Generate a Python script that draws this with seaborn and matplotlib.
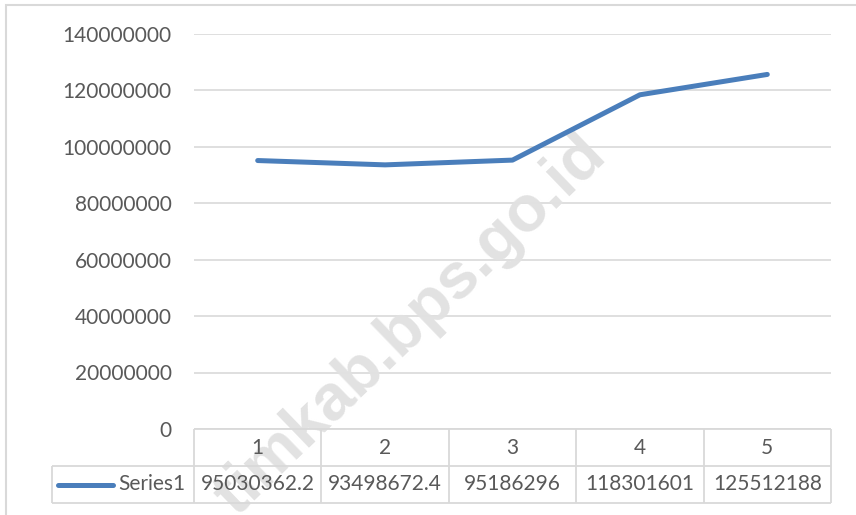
import matplotlib
matplotlib.use('Agg')
import matplotlib.pyplot as plt
import matplotlib.transforms as mtransforms
from matplotlib.patches import Rectangle
import seaborn as sns
import pandas as pd

# ---- data ----
categories = [1, 2, 3, 4, 5]
series1 = [95030362.2, 93498672.4, 95186296, 118301601, 125512188]
value_labels = ["95030362.2", "93498672.4", "95186296", "118301601", "125512188"]
series_name = "Series1"
yticks = [0, 20000000, 40000000, 60000000, 80000000, 100000000, 120000000, 140000000]
watermark = "timkab.bps.go.id"

LINE = '#4A7EBB'
GRID = '#D9D9D9'
TXT = '#595959'

sns.set_theme(style='white')
plt.rcParams['font.family'] = ['Lato', 'DejaVu Sans']

W, H = 856, 515
fig = plt.figure(figsize=(W / 100, H / 100), dpi=100)


def fx(px):
    return px / W


def fy(py):
    return 1 - py / H


ax_l, ax_r, ax_t, ax_b = 194, 831, 33.5, 429
ax = fig.add_axes([fx(ax_l), fy(ax_b), fx(ax_r) - fx(ax_l), fy(ax_t) - fy(ax_b)])

df = pd.DataFrame({'cat': categories, 'value': series1})
sns.lineplot(data=df, x='cat', y='value', ax=ax, color=LINE, linewidth=3.6,
             solid_capstyle='round', solid_joinstyle='round', zorder=4)

ax.set_xlim(0.5, 5.5)
ax.set_ylim(0, 140000000)
ax.set_yticks(yticks)
ax.set_yticklabels([str(v) for v in yticks])
ax.set_xticks([])
ax.set_xlabel('')
ax.set_ylabel('')
ax.yaxis.grid(True, color=GRID, linewidth=1.2)
ax.set_axisbelow(True)
for s in ax.spines.values():
    s.set_visible(False)
ax.tick_params(axis='y', length=0, pad=16, labelcolor=TXT, labelsize=15)

# ---- watermark (behind table and line) ----
ax.text(fx(411), fy(326), watermark, transform=fig.transFigure, rotation=44,
        rotation_mode='anchor', ha='center', va='center', fontsize=47,
        fontweight='bold', color='#E2E2E2',
        family=['Liberation Sans', 'DejaVu Sans'], zorder=1.5, clip_on=False)

# ---- data table ----
ax_h = ax_b - ax_t
ax_w = ax_r - ax_l
rh = 37 / ax_h  # row height in axes units
blend = mtransforms.blended_transform_factory(ax.transData, ax.transAxes)
tA = ax.transAxes
tkw = dict(color=GRID, linewidth=1.3, clip_on=False, solid_capstyle='butt', zorder=3)
lbl_left = (52 - ax_l) / ax_w

ax.plot([0, 1], [0, 0], transform=tA, **tkw)
ax.plot([lbl_left, 1], [-rh, -rh], transform=tA, **tkw)
ax.plot([lbl_left, 1], [-2 * rh, -2 * rh], transform=tA, **tkw)
bounds = [c - 0.5 for c in categories] + [categories[-1] + 0.5]
for b in bounds:
    ax.plot([b, b], [0, -2 * rh], transform=blend, **tkw)
ax.plot([lbl_left, lbl_left], [-rh, -2 * rh], transform=tA, **tkw)

for c, v in zip(categories, value_labels):
    ax.text(c, -rh / 2, str(c), transform=blend, ha='center', va='center',
            fontsize=15, color=TXT, clip_on=False, zorder=4)
    ax.text(c, -1.5 * rh, v, transform=blend, ha='center', va='center',
            fontsize=15, color=TXT, clip_on=False, zorder=4)

ax.text((185 - ax_l) / ax_w, -1.5 * rh, series_name, transform=tA, ha='right',
        va='center', fontsize=15, color=TXT, clip_on=False, zorder=4)
ax.plot([(58 - ax_l) / ax_w, (113 - ax_l) / ax_w], [-1.5 * rh, -1.5 * rh],
        transform=tA, color=LINE, linewidth=3.6, solid_capstyle='round',
        clip_on=False, zorder=4)

# ---- chart border ----
fig.patches.append(Rectangle((fx(6), -0.2), 1.3, fy(5) + 0.2,
                             transform=fig.transFigure, fill=False,
                             edgecolor=GRID, linewidth=1.5))

fig.savefig('out.png', dpi=100)
